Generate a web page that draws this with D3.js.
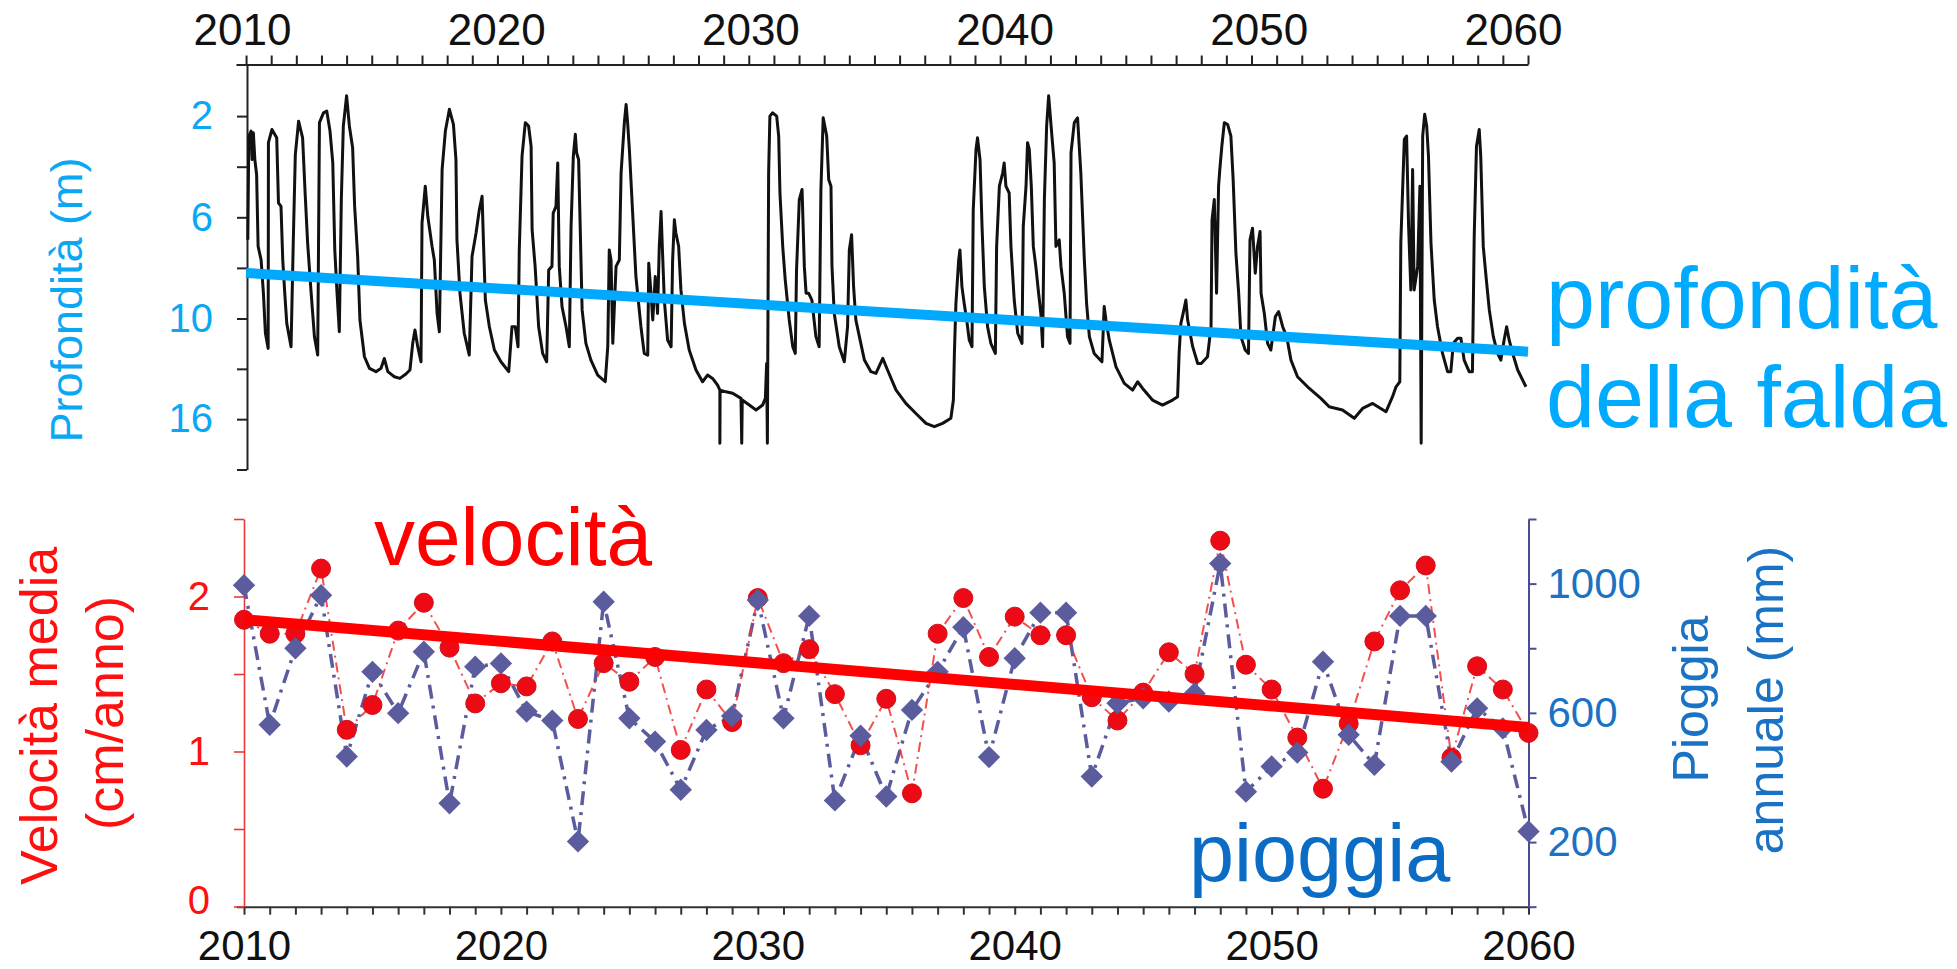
<!DOCTYPE html>
<html><head><meta charset="utf-8">
<script src="https://cdn.jsdelivr.net/npm/d3@7"></script>
<style>
html,body{margin:0;padding:0;background:#fff;}
svg{display:block;}
text{font-family:"Liberation Sans", Arial, Helvetica, sans-serif;}
</style></head><body>
<svg id="chart" width="1957" height="969"></svg>
<script>
// ---------------- DATA ----------------
const years = [2010,2011,2012,2013,2014,2015,2016,2017,2018,2019,2020,2021,2022,2023,2024,2025,2026,2027,2028,2029,2030,
  2031,2032,2033,2034,2035,2036,2037,2038,2039,2040,2041,2042,2043,2044,2045,2046,2047,2048,2049,2050,
  2051,2052,2053,2054,2055,2056,2057,2058,2059,2060];
// mean velocity (cm/anno)
const velocity = [1.85,1.76,1.76,2.18,1.14,1.30,1.78,1.96,1.67,1.31,1.44,1.42,1.71,1.21,1.57,1.45,1.61,1.01,1.40,1.19,1.99,
  1.57,1.66,1.37,1.04,1.34,0.73,1.76,1.99,1.61,1.87,1.75,1.75,1.35,1.20,1.38,1.64,1.50,2.36,1.56,1.40,
  1.09,0.76,1.18,1.71,2.04,2.20,0.96,1.55,1.40,1.12];
// annual rainfall (mm)
const rainfall = [995,563,800,964,465,727,599,789,320,743,753,604,576,202,944,583,511,362,547,590,949,
  583,900,329,529,341,609,727,865,463,769,910,910,403,630,645,635,660,1062,356,434,
  477,758,532,439,900,900,449,614,552,233];
// trend lines
const velocityTrendYears = [2010, 2060];
const velocityTrend = [1.85, 1.155];
const depthTrendYears = [2010, 2061];
const depthTrend = [8.2, 11.98];

// groundwater depth series (m)
const depthYears = [
2010.07,2010.11,2010.20,2010.24,2010.29,2010.35,2010.42,2010.48,2010.60,2010.69,2010.77,2010.88,2010.89,2011.03,2011.22,2011.29,2011.39,2011.46,2011.54,2011.62,2011.79,2011.88,2011.96,2012.09,2012.25,2012.35,2012.45,2012.59,2012.72,2012.85,2012.92,2013.08,2013.21,2013.34,2013.45,2013.53,2013.62,2013.71,2013.79,2013.87,2014.00,2014.11,2014.24,2014.32,2014.44,2014.53,2014.71,2014.91,2015.17,2015.37,2015.50,2015.64,2015.90,2016.12,2016.36,2016.52,2016.63,2016.72,2016.83,2016.96,2017.00,2017.13,2017.23,2017.40,2017.49,2017.60,2017.69,2017.80,2017.93,2018.09,2018.25,2018.35,2018.39,2018.51,2018.68,2018.88,2018.99,2019.15,2019.28,2019.39,2019.45,2019.52,2019.68,2019.88,2020.14,2020.45,2020.58,2020.71,2020.82,2020.87,2020.98,2021.11,2021.24,2021.34,2021.38,2021.50,2021.64,2021.80,2021.96,2022.04,2022.17,2022.22,2022.33,2022.40,
2022.46,2022.57,2022.73,2022.86,2022.93,2023.02,2023.10,2023.15,2023.23,2023.29,2023.37,2023.52,2023.72,2023.99,2024.29,2024.39,2024.45,2024.52,2024.59,2024.72,2024.85,2024.92,2025.05,2025.12,2025.18,2025.25,2025.38,2025.51,2025.71,2025.84,2025.98,2026.02,2026.11,2026.18,2026.28,2026.37,2026.44,2026.51,2026.57,2026.64,2026.77,2026.91,2026.97,2027.04,2027.10,2027.21,2027.30,2027.44,2027.63,2027.90,2028.16,2028.36,2028.56,2028.76,2028.85,2028.85,2028.86,2029.09,2029.36,2029.69,2029.72,2029.74,2030.02,2030.29,2030.55,2030.66,2030.71,2030.74,2030.79,2030.84,2030.95,2031.11,2031.19,2031.24,2031.35,2031.45,2031.61,2031.75,2031.85,2031.90,2032.01,2032.12,2032.21,2032.28,2032.38,2032.51,2032.67,2032.80,2032.87,2032.96,2033.10,2033.18,2033.27,2033.31,2033.40,2033.60,2033.80,2033.93,2034.00,2034.09,2034.17,2034.26,2034.40,2034.60,2034.86,
2035.06,2035.33,2035.52,2035.86,2036.25,2036.65,2037.05,2037.38,2037.71,2038.04,2038.14,2038.18,2038.24,2038.35,2038.40,2038.48,2038.57,2038.67,2038.77,2038.88,2038.93,2039.04,2039.10,2039.20,2039.28,2039.37,2039.50,2039.63,2039.81,2039.86,2039.97,2040.10,2040.16,2040.23,2040.36,2040.43,2040.56,2040.70,2040.87,2040.92,2041.03,2041.09,2041.16,2041.24,2041.32,2041.42,2041.53,2041.62,2041.69,2041.76,2041.85,2041.93,2042.06,2042.15,2042.22,2042.35,2042.42,2042.55,2042.68,2042.78,2042.82,2042.95,2043.08,2043.21,2043.35,2043.44,2043.55,2043.74,2044.05,2044.14,2044.21,2044.34,2044.61,2044.94,2045.27,2045.47,2045.67,2046.06,2046.46,2046.86,2047.06,2047.12,2047.19,2047.28,2047.39,2047.46,2047.66,2047.86,
2048.00,2048.25,2048.39,2048.43,2048.52,2048.61,2048.69,2048.74,2048.82,2048.92,2049.05,2049.18,2049.27,2049.38,2049.49,2049.58,2049.75,2049.88,2049.94,2050.04,2050.15,2050.24,2050.34,2050.38,2050.51,2050.64,2050.77,2050.95,2051.08,2051.24,2051.40,2051.57,2051.83,2052.30,2052.76,2053.09,2053.62,2054.09,2054.42,2054.82,2055.35,2055.61,2055.75,2055.90,2055.94,2056.08,2056.17,2056.25,2056.34,2056.41,2056.47,2056.61,2056.70,2056.75,2056.81,2056.89,2056.97,2057.04,2057.14,2057.27,2057.40,2057.60,2057.80,2057.93,2058.03,2058.20,2058.33,2058.46,2058.66,2058.79,2058.86,2058.95,2059.06,2059.12,2059.22,2059.33,2059.46,2059.62,2059.79,2059.92,2060.05,2060.15,2060.25,2060.39,2060.59,2060.92];
const depthValues = [
6.89,2.79,2.59,3.72,2.66,3.72,4.31,7.15,7.69,9.00,10.88,11.78,3.05,2.53,2.86,5.43,5.57,7.69,9.00,10.29,11.68,6.89,3.52,2.20,2.86,5.04,7.02,9.00,11.08,12.18,2.26,1.87,1.80,2.59,3.85,7.29,9.00,10.79,5.30,2.39,1.20,2.39,3.25,5.57,7.55,10.09,12.28,12.97,13.17,12.97,12.38,13.17,13.47,13.57,13.31,13.07,11.48,10.69,11.68,12.58,6.23,4.77,5.96,7.15,7.69,9.80,10.79,4.11,2.59,1.73,2.33,3.72,6.89,9.00,10.88,12.18,7.55,6.62,5.70,5.17,7.15,9.27,10.49,11.88,12.58,13.17,10.49,10.49,11.68,7.29,3.58,2.26,2.39,3.19,6.49,7.94,10.49,12.08,12.58,8.08,7.94,5.83,5.57,3.85,
7.94,9.53,10.49,11.68,6.36,3.58,2.72,3.45,3.72,6.23,9.66,11.48,12.48,13.37,13.77,11.68,7.29,7.69,11.48,7.94,7.69,4.25,2.26,1.54,2.26,3.32,5.83,8.34,10.49,12.08,12.18,7.82,9.00,10.09,8.34,9.80,7.15,5.77,7.42,9.27,11.28,11.68,7.69,6.10,6.62,7.15,8.87,10.29,11.88,13.07,13.77,13.37,13.57,13.97,14.27,17.44,14.27,14.37,14.46,14.76,17.44,14.86,15.16,15.45,15.16,14.76,12.68,17.44,4.25,2.00,1.87,2.00,2.79,5.04,7.15,8.47,10.09,11.68,12.08,8.08,5.30,4.90,7.94,9.00,9.00,9.27,11.08,11.68,4.90,2.07,2.79,4.51,4.77,7.94,9.80,11.68,12.58,10.49,7.29,6.69,8.74,10.09,11.08,12.48,13.17,
13.27,12.38,13.07,14.27,15.06,15.66,16.25,16.45,16.25,15.95,14.86,12.08,9.41,7.69,7.29,8.74,9.41,10.09,11.28,11.68,5.70,3.32,2.86,3.72,6.36,8.74,10.49,11.48,12.08,7.15,4.77,4.25,3.85,4.77,5.04,7.15,9.27,10.88,11.48,6.36,4.77,3.05,3.32,4.77,7.15,7.94,9.00,9.80,11.68,5.30,2.39,1.20,2.79,3.85,7.15,6.89,7.94,9.00,11.08,11.48,3.45,2.26,2.07,4.25,7.69,9.41,11.08,12.08,12.58,9.53,10.09,11.28,12.88,13.87,14.27,13.77,14.17,14.86,15.16,14.86,14.66,12.08,10.29,9.80,9.27,10.09,11.68,12.68,
12.68,12.28,10.49,6.10,5.30,9.00,4.77,4.11,3.19,2.26,2.33,2.79,4.51,7.42,9.00,11.08,11.88,12.08,6.89,6.43,8.21,7.15,6.56,9.00,9.80,11.48,11.88,9.92,9.73,10.49,11.08,12.48,13.47,14.17,14.76,15.26,15.45,15.95,15.36,15.06,15.56,14.66,14.07,13.77,7.02,2.92,2.79,6.36,8.87,4.11,8.87,7.94,4.77,17.44,2.79,1.93,2.39,3.58,7.02,9.27,10.49,12.08,13.17,13.17,11.48,11.18,11.18,12.48,13.17,13.17,6.76,3.19,2.53,3.58,7.15,8.34,9.66,11.08,12.08,12.48,11.28,10.49,11.28,12.08,13.07,14.07];

// axis ticks / labels
const decadeLabels = [2010,2020,2030,2040,2050,2060];
const yearTicksTop = [2010,2011,2012,2013,2014,2015,2016,2017,2018,2019,2020,2021,2022,2023,2024,2025,2026,2027,2028,2029,2030,2031,2032,2033,2034,2035,2036,2037,2038,2039,2040,2041,2042,2043,2044,2045,2046,2047,2048,2049,2050,2051,2052,2053,2054,2055,2056,2057,2058,2059,2060,2061];
const depthTicks = [2,4,6,8,10,13,16,19];
const depthTickLabels = ["2","","6","","10","","16",""];
const velocityTicks = [0,0.5,1,1.5,2,2.5];
const velocityTickLabels = ["0","","1","","2",""];
const rainTicks = [0,200,400,600,800,1000,1200];
const rainTickLabels = ["","200","","600","","1000",""];

// ---------------- DRAW ----------------
const svg = d3.select("#chart");
svg.append("rect").attr("width",1957).attr("height",969).attr("fill","#fff");

const CYAN = "#0aa8f4", RED = "#ff1010", BLUE_TXT = "#1a72c4", PURPLE = "#5a5c9e";
const FONT = "'Liberation Sans', Arial, sans-serif";

// ---- top chart ----
const xTop = d3.scaleLinear().domain([2009.6, 2061]).range([236, 1528]);
const xTopLab = d3.scaleLinear().domain([2010, 2060]).range([242, 1513]);
const yDepth = d3.scaleLinear().domain([0, 10, 19]).range([65.5, 318.5, 469.5]);

const gTopAxis = svg.append("g").attr("transform","translate(0,64.5)")
  .call(d3.axisTop(xTop).tickValues(yearTicksTop).tickSize(9).tickSizeOuter(0).tickFormat(""));
gTopAxis.selectAll("path,line").attr("stroke","#222").attr("stroke-width",2);

const gTopLab = svg.append("g").attr("transform","translate(0,64.5)")
  .call(d3.axisTop(xTopLab).tickValues(decadeLabels).tickSize(0).tickFormat(d3.format("d")));
gTopLab.select(".domain").remove();
gTopLab.selectAll("text").attr("y",-19.5).attr("dy",0).attr("font-size",44).attr("fill","#111")
  .style("font-family",FONT);

const gDepth = svg.append("g").attr("transform","translate(247,0)")
  .call(d3.axisLeft(yDepth).tickValues(depthTicks).tickSize(10).tickSizeOuter(0)
    .tickFormat((d,i)=>depthTickLabels[i]));
gDepth.selectAll("path,line").attr("stroke","#222").attr("stroke-width",2);
gDepth.selectAll("text").attr("x",-34).attr("font-size",40).attr("fill",CYAN)
  .style("font-family",FONT);

const depthLine = d3.line().x(d=>xTop(d[0])).y(d=>yDepth(d[1]));
svg.append("path").datum(depthYears.map((y,i)=>[y,depthValues[i]]))
  .attr("d",depthLine).attr("fill","none").attr("stroke","#111").attr("stroke-width",3)
  .attr("stroke-linejoin","round");

svg.append("path").datum(depthTrendYears.map((y,i)=>[y,depthTrend[i]]))
  .attr("d",depthLine).attr("fill","none").attr("stroke","#00a9fb").attr("stroke-width",10);

// ---- bottom chart ----
const xBot = d3.scaleLinear().domain([2009.7, 2060.05]).range([236.3, 1529.8]);
const yVel = d3.scaleLinear().domain([0, 2.5]).range([906.5, 519]);
const yRain = d3.scaleLinear().domain([0, 1200]).range([906.7, 519]);

const gBot = svg.append("g").attr("transform","translate(0,906.7)")
  .call(d3.axisBottom(xBot).tickValues(years).tickSize(8).tickSizeOuter(0)
    .tickFormat(d=> decadeLabels.includes(d) ? String(d) : ""));
gBot.selectAll("path,line").attr("stroke","#333").attr("stroke-width",2);
gBot.selectAll("text").attr("y",53.3).attr("dy",0).attr("font-size",42).attr("fill","#111")
  .style("font-family",FONT);

const gVel = svg.append("g").attr("transform","translate(244,0)")
  .call(d3.axisLeft(yVel).tickValues(velocityTicks).tickSize(10).tickSizeOuter(0)
    .tickFormat((d,i)=>velocityTickLabels[i]));
gVel.selectAll("path,line").attr("stroke","#e83a3a").attr("stroke-width",1.6);
gVel.selectAll("text").attr("x",-34).attr("font-size",40).attr("fill",RED)
  .style("font-family",FONT)
  .attr("dy",d=> d===0 ? "0.17em" : "0.32em");

const gRain = svg.append("g").attr("transform","translate(1528.5,0)")
  .call(d3.axisRight(yRain).tickValues(rainTicks).tickSize(8).tickSizeOuter(0)
    .tickFormat((d,i)=>rainTickLabels[i]));
gRain.selectAll("path,line").attr("stroke","#4a4c98").attr("stroke-width",2);
gRain.selectAll("text").attr("x",19).attr("font-size",42).attr("fill",BLUE_TXT)
  .style("font-family",FONT);

// rainfall line + velocity line
svg.append("path").datum(years.map((y,i)=>[y,rainfall[i]]))
  .attr("d", d3.line().x(d=>xBot(d[0])).y(d=>yRain(d[1])))
  .attr("fill","none").attr("stroke",PURPLE).attr("stroke-width",3.5)
  .attr("stroke-dasharray","14,7,3,7");
svg.append("path").datum(years.map((y,i)=>[y,velocity[i]]))
  .attr("d", d3.line().x(d=>xBot(d[0])).y(d=>yVel(d[1])))
  .attr("fill","none").attr("stroke","#f03030").attr("stroke-width",2).attr("stroke-opacity",0.85)
  .attr("stroke-dasharray","10,5,2,5");

svg.append("g").selectAll("circle").data(years.map((y,i)=>[y,velocity[i]])).join("circle")
  .attr("cx",d=>xBot(d[0])).attr("cy",d=>yVel(d[1])).attr("r",9.5)
  .attr("fill","#ee0a14").attr("stroke","#d0101a").attr("stroke-width",1);

const diamond = d3.symbol().type(d3.symbolSquare).size(250);
svg.append("g").selectAll("path").data(years.map((y,i)=>[y,rainfall[i]])).join("path")
  .attr("d",diamond)
  .attr("transform",d=>`translate(${xBot(d[0])},${yRain(d[1])}) rotate(45)`)
  .attr("fill",PURPLE);

svg.append("path").datum(velocityTrendYears.map((y,i)=>[y,velocityTrend[i]]))
  .attr("d", d3.line().x(d=>xBot(d[0])).y(d=>yVel(d[1])))
  .attr("fill","none").attr("stroke","#ff0000").attr("stroke-width",11);

// ---- texts ----
const T = (x,y,s,size,fill,rot)=>{
  const t = svg.append("text").attr("font-size",size).attr("fill",fill).text(s);
  if(rot){ t.attr("transform",`translate(${x},${y}) rotate(-90)`).attr("text-anchor","middle"); }
  else { t.attr("x",x).attr("y",y); }
  return t;
};
T(82, 300, "Profondità (m)", 45, CYAN, true);
T(57, 716, "Velocità media", 52, RED, true);
T(123, 713, "(cm/anno)", 52, RED, true);
T(1708, 699, "Pioggia", 50, BLUE_TXT, true);
T(1783, 700, "annuale (mm)", 50, BLUE_TXT, true);
T(1546, 328, "profondità", 88, "#00aaff");
T(1546, 427, "della falda", 88, "#00aaff");
T(374, 565, "velocità", 82, "#ff0000");
T(1189, 881, "pioggia", 81, "#0a6cc4");
</script>
</body></html>
